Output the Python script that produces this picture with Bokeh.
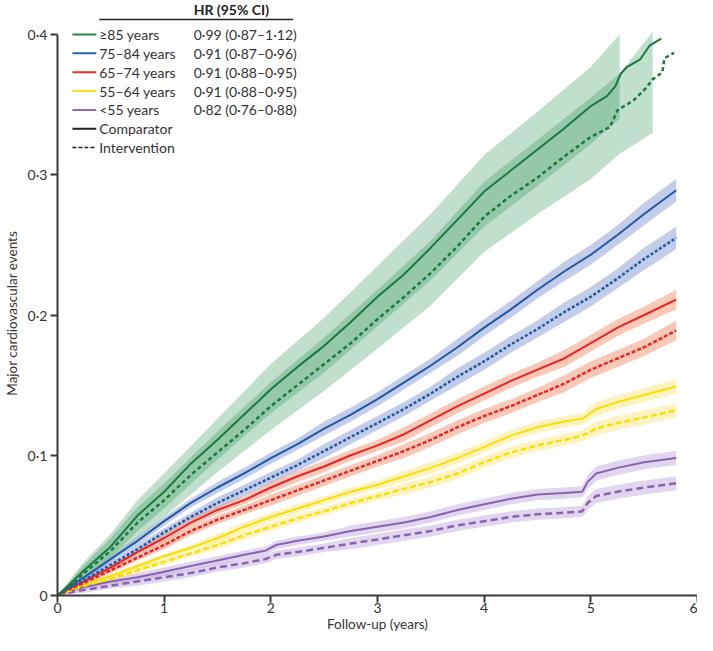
from bokeh.plotting import figure
from bokeh.models import Range1d, FixedTicker, CustomJSTickFormatter
from bokeh.core.properties import value
from bokeh.embed import file_html
from bokeh.resources import INLINE

# ---------------- data ----------------
T = [0, 0.1, 0.25, 0.5, 0.75, 1, 1.25, 1.5, 1.75, 2, 2.25, 2.5, 2.75, 3, 3.25,
     3.5, 3.75, 4, 4.25, 4.5, 4.75, 5, 5.25, 5.5, 5.8]

# >=85 years
T_g_comp = [0, 0.1, 0.25, 0.5, 0.75, 1, 1.25, 1.5, 1.75, 2, 2.25, 2.5, 2.75, 3, 3.25,
            3.5, 3.75, 4, 4.25, 4.5, 4.75, 5, 5.15, 5.23, 5.28, 5.34, 5.46, 5.55, 5.66]
g_comp = [0, 0.007, 0.018, 0.035, 0.057, 0.074, 0.094, 0.111, 0.129, 0.147, 0.163, 0.178,
          0.195, 0.213, 0.229, 0.248, 0.268, 0.288, 0.303, 0.318, 0.333, 0.349, 0.356,
          0.363, 0.372, 0.377, 0.382, 0.392, 0.397]
T_g_int = [0, 0.1, 0.25, 0.5, 0.75, 1, 1.25, 1.5, 1.75, 2, 2.25, 2.5, 2.75, 3, 3.25,
           3.5, 3.75, 4, 4.25, 4.5, 4.75, 5, 5.18, 5.25, 5.4, 5.52, 5.58, 5.67, 5.69, 5.78]
g_int = [0, 0.006, 0.016, 0.032, 0.052, 0.068, 0.086, 0.102, 0.118, 0.135, 0.150, 0.165,
         0.180, 0.197, 0.213, 0.230, 0.249, 0.270, 0.285, 0.298, 0.313, 0.327, 0.334,
         0.346, 0.353, 0.362, 0.368, 0.373, 0.383, 0.387]
T_gb_comp = [0, 0.25, 0.5, 0.75, 1, 1.5, 2, 2.5, 3, 3.5, 4, 4.5, 5, 5.27]
g_comp_lo = [0, 0.012, 0.027, 0.046, 0.062, 0.097, 0.130, 0.159, 0.192, 0.225, 0.263, 0.292, 0.322, 0.340]
g_comp_hi = [0, 0.024, 0.044, 0.068, 0.087, 0.126, 0.165, 0.198, 0.235, 0.272, 0.314, 0.345, 0.377, 0.400]
T_gb_int = [0, 0.25, 0.5, 0.75, 1, 1.5, 2, 2.5, 3, 3.5, 4, 4.5, 5, 5.27, 5.58]
g_int_lo = [0, 0.010, 0.024, 0.041, 0.056, 0.088, 0.118, 0.146, 0.176, 0.207, 0.245, 0.272, 0.297, 0.315, 0.330]
g_int_hi = [0, 0.022, 0.041, 0.063, 0.080, 0.117, 0.152, 0.184, 0.218, 0.253, 0.295, 0.325, 0.355, 0.372, 0.402]

# 75-84 years
b_comp = [0, 0.006, 0.013, 0.026, 0.039, 0.053, 0.066, 0.077, 0.087, 0.098, 0.108, 0.119,
          0.129, 0.140, 0.152, 0.164, 0.177, 0.191, 0.204, 0.218, 0.231, 0.243, 0.257, 0.272, 0.289]
b_int = [0, 0.005, 0.011, 0.022, 0.033, 0.045, 0.056, 0.066, 0.075, 0.084, 0.093, 0.103,
         0.113, 0.123, 0.133, 0.144, 0.156, 0.167, 0.179, 0.190, 0.202, 0.213, 0.226, 0.240, 0.255]
b_hw = [0, 0.001, 0.002, 0.002, 0.003, 0.003, 0.003, 0.004, 0.004, 0.004, 0.004, 0.005, 0.005,
        0.005, 0.005, 0.005, 0.006, 0.006, 0.006, 0.006, 0.007, 0.007, 0.007, 0.008, 0.008]

# 65-74 years
r_comp = [0, 0.005, 0.010, 0.020, 0.031, 0.041, 0.052, 0.061, 0.068, 0.077, 0.085, 0.092,
          0.100, 0.107, 0.115, 0.125, 0.135, 0.144, 0.153, 0.161, 0.169, 0.180, 0.191, 0.200, 0.211]
r_int = [0, 0.004, 0.009, 0.018, 0.027, 0.036, 0.046, 0.054, 0.061, 0.068, 0.075, 0.082,
         0.089, 0.096, 0.103, 0.111, 0.120, 0.128, 0.135, 0.143, 0.151, 0.161, 0.169, 0.177, 0.189]
r_hw = [0, 0.001, 0.001, 0.002, 0.002, 0.003, 0.003, 0.003, 0.003, 0.004, 0.004, 0.004, 0.004,
        0.004, 0.005, 0.005, 0.005, 0.005, 0.005, 0.005, 0.006, 0.006, 0.006, 0.006, 0.007]

# 55-64 years
T_y = [0, 0.1, 0.25, 0.5, 0.75, 1, 1.25, 1.5, 1.75, 2, 2.25, 2.5, 2.75, 3, 3.25, 3.5,
       3.75, 4, 4.25, 4.5, 4.75, 4.92, 5.05, 5.25, 5.5, 5.8]
y_comp = [0, 0.004, 0.008, 0.014, 0.021, 0.028, 0.034, 0.041, 0.049, 0.056, 0.062, 0.068,
          0.074, 0.079, 0.085, 0.091, 0.098, 0.106, 0.114, 0.120, 0.124, 0.126, 0.133,
          0.138, 0.143, 0.149]
y_int = [0, 0.003, 0.007, 0.012, 0.018, 0.024, 0.030, 0.036, 0.043, 0.049, 0.055, 0.060,
         0.066, 0.071, 0.076, 0.081, 0.087, 0.095, 0.102, 0.107, 0.111, 0.114, 0.119,
         0.123, 0.127, 0.132]
y_hw = [0, 0.001, 0.001, 0.002, 0.002, 0.002, 0.002, 0.003, 0.003, 0.003, 0.003, 0.003, 0.003,
        0.003, 0.004, 0.004, 0.004, 0.004, 0.004, 0.004, 0.004, 0.004, 0.005, 0.005, 0.005, 0.005]

# <55 years
T_p = [0, 0.1, 0.25, 0.5, 0.75, 1, 1.25, 1.5, 1.75, 1.95, 2.05, 2.25, 2.5, 2.75, 3, 3.25,
       3.5, 3.75, 4, 4.25, 4.5, 4.75, 4.92, 4.97, 5.05, 5.25, 5.5, 5.8]
p_comp = [0, 0.003, 0.006, 0.010, 0.013, 0.017, 0.021, 0.025, 0.029, 0.032, 0.036, 0.039,
          0.042, 0.046, 0.049, 0.052, 0.056, 0.061, 0.065, 0.069, 0.072, 0.073, 0.074,
          0.081, 0.087, 0.091, 0.095, 0.098]
p_int = [0, 0.002, 0.004, 0.007, 0.010, 0.013, 0.016, 0.020, 0.023, 0.026, 0.029, 0.031,
         0.034, 0.037, 0.040, 0.043, 0.046, 0.050, 0.053, 0.056, 0.058, 0.059, 0.060,
         0.066, 0.071, 0.074, 0.077, 0.080]
p_hw = [0, 0.001, 0.002, 0.002, 0.003, 0.003, 0.003, 0.003, 0.003, 0.003, 0.003, 0.003, 0.003,
        0.004, 0.004, 0.004, 0.004, 0.004, 0.004, 0.004, 0.004, 0.004, 0.004, 0.005, 0.005,
        0.005, 0.005, 0.005]

legend_labels = ["\u226585 years", "75\u201384 years", "65\u201374 years", "55\u201364 years", "<55 years"]
hr_labels = ["0\u00b799 (0\u00b787\u20131\u00b712)", "0\u00b791 (0\u00b787\u20130\u00b796)",
             "0\u00b791 (0\u00b788\u20130\u00b795)", "0\u00b791 (0\u00b788\u20130\u00b795)",
             "0\u00b782 (0\u00b776\u20130\u00b788)"]
x_ticks = [0, 1, 2, 3, 4, 5, 6]
y_ticks = [0, 0.1, 0.2, 0.3, 0.4]

# ---------------- styling ----------------
LINE = {"g": "#177a3e", "b": "#1d59a6", "r": "#ec2226", "y": "#fbdf00", "p": "#8862b4"}
LEG = {"g": "#1f8a4c", "b": "#2563b0", "r": "#ee2a24", "y": "#f9e21a", "p": "#8e6bbf"}
BAND = {"b": "#8899d3", "r": "#f39371", "y": "#fbe781", "p": "#c1addb"}
DASH = {"g": "4 3", "b": "3 2", "r": "4 2", "y": "6 3", "p": "7 4"}
FONT = "Lato"
TXT = "#333333"

W, H = 697, 635
BL, BB = 53, 40
FW, FH = W - BL, H - BB
Y04 = 34                      # canvas row of the 0.4 tick
YTOP = 0.4 * FH / (FH - Y04)

p = figure(width=W, height=H, x_range=Range1d(0, 6), y_range=Range1d(0, YTOP),
           output_backend="svg", toolbar_location=None,
           min_border_left=BL, min_border_right=0, min_border_top=0, min_border_bottom=BB)
p.outline_line_color = None
p.grid.visible = False
p.background_fill_color = "white"

def band(x, lo, hi, key, alpha=0.5):
    p.varea(x=x, y1=lo, y2=hi, fill_color=BAND[key], fill_alpha=alpha)

# green bands (two overlapping)
p.varea(x=T_gb_comp, y1=g_comp_lo, y2=g_comp_hi, fill_color="#2e9455", fill_alpha=0.3)
p.varea(x=T_gb_int, y1=g_int_lo, y2=g_int_hi, fill_color="#2e9455", fill_alpha=0.3)

for key, tt, comp, intv, hw in [("b", T, b_comp, b_int, b_hw), ("r", T, r_comp, r_int, r_hw),
                                ("y", T_y, y_comp, y_int, y_hw), ("p", T_p, p_comp, p_int, p_hw)]:
    band(tt, [v - h for v, h in zip(comp, hw)], [v + h for v, h in zip(comp, hw)], key)
    band(tt, [v - h for v, h in zip(intv, hw)], [v + h for v, h in zip(intv, hw)], key)

for key, tt, comp, intv in [("p", T_p, p_comp, p_int), ("y", T_y, y_comp, y_int),
                            ("r", T, r_comp, r_int), ("b", T, b_comp, b_int)]:
    p.line(tt, comp, line_color=LINE[key], line_width=2)
    p.line(tt, intv, line_color=LINE[key], line_width=2.5, line_dash=DASH[key])

p.line(T_g_comp, g_comp, line_color=LINE["g"], line_width=2)
p.line(T_g_int, g_int, line_color=LINE["g"], line_width=2.5, line_dash=DASH["g"])

# ---------------- axes ----------------
p.xaxis.bounds = (0, 6)
p.yaxis.bounds = (0, 0.4)
p.xaxis.ticker = FixedTicker(ticks=x_ticks)
p.yaxis.ticker = FixedTicker(ticks=y_ticks)
p.yaxis.formatter = CustomJSTickFormatter(
    code="return tick == 0 ? '0' : tick.toFixed(1).replace('.', '\u00b7');")
for ax in (p.xaxis, p.yaxis):
    ax.axis_line_color = "#3a3a3a"
    ax.axis_line_width = 2
    ax.major_tick_line_color = "#3a3a3a"
    ax.major_tick_line_width = 2
    ax.major_tick_out = 7
    ax.major_tick_in = 0
    ax.minor_tick_line_color = None
    ax.major_label_text_font = FONT
    ax.major_label_text_font_size = "14px"
    ax.major_label_text_color = TXT
    ax.axis_label_text_font = FONT
    ax.axis_label_text_font_size = "13.5px"
    ax.axis_label_text_font_style = "normal"
    ax.axis_label_text_color = TXT
p.xaxis.major_label_standoff = 0
p.xaxis.axis_label_standoff = 0
p.xaxis.axis_label = "Follow-up (years)"
p.yaxis.major_label_standoff = 3
p.yaxis.axis_label_standoff = 5
# trailing em spaces keep the visible title centred on the 0-0.4 span
p.yaxis.axis_label = "Major cardiovascular events\u2003\u2003\u2003"

# ---------------- legend (positions in canvas pixels -> data) ----------------
def dx(px):
    return (px - BL) / FW * 6

def dy(py):
    return (FH - py) / FH * YTOP

rows = [Y04 + 18.85 * i for i in range(7)]
keys = ["g", "b", "r", "y", "p"]
for i, k in enumerate(keys):
    p.segment(x0=dx(68), y0=dy(rows[i]), x1=dx(92), y1=dy(rows[i]),
              line_color=LEG[k], line_width=2)
p.segment(x0=dx(68), y0=dy(rows[5]), x1=dx(92), y1=dy(rows[5]), line_color="#222222", line_width=2)
p.segment(x0=dx(68), y0=dy(rows[6]), x1=dx(92), y1=dy(rows[6]), line_color="#222222",
          line_width=1.5, line_dash="4 2")

p.text(x=[dx(95)] * 7, y=[dy(r) for r in rows],
       text=legend_labels + ["Comparator", "Intervention"],
       text_font=value(FONT), text_font_size=value("14px"), text_color=TXT,
       text_baseline="middle", text_align="left")
p.text(x=[dx(190)] * 5, y=[dy(r) for r in rows[:5]], text=hr_labels,
       text_font=value(FONT), text_font_size=value("14px"), text_color=TXT,
       text_baseline="middle", text_align="left")
p.text(x=[dx(190)], y=[dy(0)], text=["HR (95% CI)"],
       text_font=value(FONT), text_font_size=value("14px"), text_font_style="bold",
       text_color="#222222", text_baseline="top", text_align="left")
p.segment(x0=dx(95), y0=dy(19), x1=dx(290), y1=dy(19), line_color="#222222", line_width=1.5)

open("out.html", "w").write(file_html(p, INLINE))
